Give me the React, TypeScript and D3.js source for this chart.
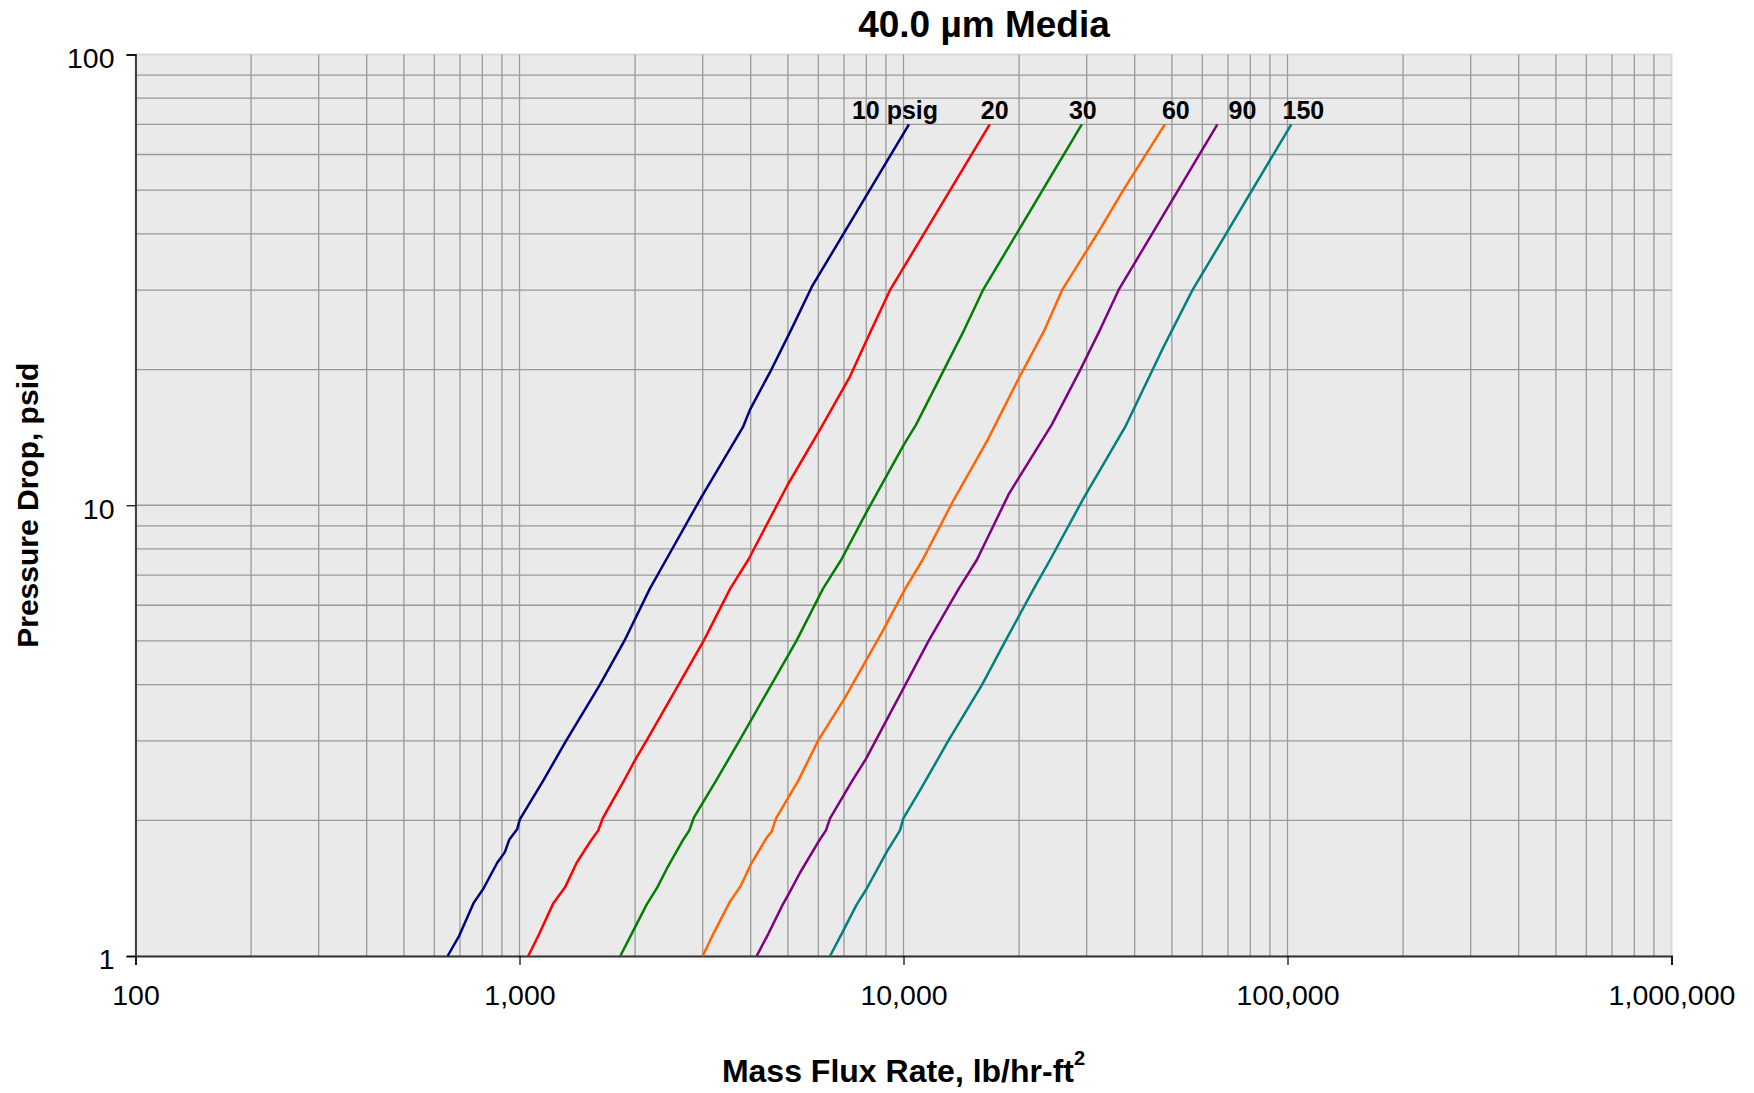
import React, { useEffect, useRef } from 'react'
import * as d3 from 'd3'

// series: [mass flux, pressure drop]
const seriesNames = ['10 psig', '20', '30', '60', '90', '150']
const seriesColors = ['#000080', '#ff0000', '#008000', '#ff6600', '#800080', '#008080']

const psig10 = [
  [650, 1], [697, 1.11], [759, 1.31], [805, 1.41], [875, 1.61], [916, 1.7], [940, 1.81], [986, 1.91],
  [1002, 2.01], [1153, 2.45], [1322, 3], [1620, 4], [1875, 5], [2187, 6.54], [2407, 7.56], [2971, 10.4],
  [3818, 14.9], [3984, 16.3], [4529, 20], [5097, 24.5], [5768, 30.5], [10334, 70],
]
const psig20 = [
  [1054, 1], [1126, 1.12], [1225, 1.31], [1314, 1.42], [1409, 1.61], [1526, 1.79], [1604, 1.9],
  [1647, 2.02], [1871, 2.45], [1999, 2.72], [2140, 3], [2596, 4], [3016, 5], [3541, 6.54], [3940, 7.56],
  [4989, 11.09], [6112, 14.9], [7254, 19.3], [8250, 24.5], [9222, 30], [16770, 70],
]
const psig30 = [
  [1830, 1], [1959, 1.12], [2143, 1.3], [2285, 1.42], [2417, 1.56], [2646, 1.79], [2768, 1.9],
  [2847, 2.03], [3250, 2.45], [3735, 3], [4529, 4], [5262, 5], [6178, 6.54], [6879, 7.56], [7991, 9.62],
  [10006, 13.6], [10785, 15.1], [14394, 24.5], [16100, 30], [29130, 70],
]
const psig60 = [
  [3000, 1], [3197, 1.12], [3532, 1.32], [3767, 1.43], [4024, 1.61], [4403, 1.83], [4538, 1.89],
  [4656, 2.02], [5322, 2.45], [5986, 3], [7025, 3.73], [7991, 4.53], [8797, 5.23], [10116, 6.54],
  [11210, 7.56], [13504, 10.27], [16551, 13.95], [19859, 18.96], [23310, 24.5], [25870, 30],
  [28790, 34.7], [32410, 40.8], [37360, 50], [47920, 70],
]
const psig90 = [
  [4146, 1], [4446, 1.12], [4847, 1.3], [5063, 1.39], [5376, 1.53], [5998, 1.79], [6281, 1.9],
  [6437, 2.02], [7357, 2.45], [7991, 2.74], [10116, 4], [11625, 5], [13942, 6.54], [15518, 7.56],
  [18815, 10.6], [24330, 15.1], [28880, 20], [32490, 24.5], [36300, 30], [65680, 70],
]
const psig150 = [
  [6437, 1], [6901, 1.12], [7551, 1.3], [8017, 1.41], [9036, 1.7], [9790, 1.9], [9989, 2.02],
  [11040, 2.33], [13076, 3], [16023, 4], [18426, 5], [21860, 6.54], [24076, 7.56], [29500, 10.4],
  [37750, 14.9], [47370, 22.3], [56560, 30], [102350, 70],
]
const allSeries = [psig10, psig20, psig30, psig60, psig90, psig150]

const xTicks = [100, 1000, 10000, 100000, 1000000]
const yTicks = [1, 10, 100]

// label nudges (px) from each line's top end
const labelDx = [-14, 5, 1, 11, 25, 12]

const W = 1754
const H = 1093
const margin = { top: 54.5, right: 82.5, bottom: 137, left: 135.5 }
const font = '"Liberation Sans", Arial, sans-serif'

const App = () => {
  const ref = useRef(null)

  useEffect(() => {
    draw()
  }, [])

  const draw = () => {
    const root = d3.select(ref.current)
    root.selectAll('*').remove()
    const svg = root.append('svg')
      .attr('width', W)
      .attr('height', H)
      .style('display', 'block')
      .attr('font-family', font)

    const width = W - margin.left - margin.right
    const height = H - margin.top - margin.bottom

    const x = d3.scaleLog().domain([100, 1000000]).range([0, width])
    const y = d3.scaleLog().domain([1, 100]).range([height, 0])

    const g = svg.append('g')
      .attr('transform', `translate(${margin.left},${margin.top})`)

    g.append('rect')
      .attr('width', width)
      .attr('height', height)
      .attr('fill', '#eaeaea')
      .attr('stroke', '#d9d9d9')
      .attr('stroke-width', 2)

    // grid
    g.append('g')
      .selectAll('line')
      .data(x.ticks().filter(v => v > 100 && v < 1000000))
      .enter().append('line')
      .attr('x1', d => x(d)).attr('x2', d => x(d))
      .attr('y1', 0).attr('y2', height)
      .attr('stroke', '#9a9a9a')
      .attr('stroke-width', 1.3)

    g.append('g')
      .selectAll('line')
      .data(y.ticks().filter(v => v > 1 && v < 100))
      .enter().append('line')
      .attr('x1', 0).attr('x2', width)
      .attr('y1', d => y(d)).attr('y2', d => y(d))
      .attr('stroke', '#9a9a9a')
      .attr('stroke-width', 1.3)

    // axes
    const xAxis = g.append('g')
      .attr('transform', `translate(0,${height})`)
      .call(d3.axisBottom(x).tickValues(xTicks).tickFormat(d3.format(',')).tickSize(9).tickPadding(20))
    xAxis.select('.domain').attr('stroke', '#333').attr('stroke-width', 1.8)
    xAxis.selectAll('.tick line').attr('stroke', '#000').attr('stroke-width', 1.2)
    xAxis.selectAll('text').attr('font-size', 28.5).attr('font-family', font).attr('fill', '#000')

    const yAxis = g.append('g')
      .call(d3.axisLeft(y).tickValues(yTicks).tickFormat(d3.format(',')).tickSize(9).tickPadding(12))
    yAxis.select('.domain').attr('stroke', '#333').attr('stroke-width', 1.8)
    yAxis.selectAll('.tick line').attr('stroke', '#000').attr('stroke-width', 1.2)
    yAxis.selectAll('text').attr('font-size', 28.5).attr('font-family', font).attr('fill', '#000')
      .attr('dy', '0.45em')

    // series
    const line = d3.line()
      .x(d => x(d[0]))
      .y(d => y(d[1]))

    g.append('g')
      .selectAll('path')
      .data(allSeries)
      .enter().append('path')
      .attr('d', d => line(d))
      .attr('fill', 'none')
      .attr('stroke', (d, i) => seriesColors[i])
      .attr('stroke-width', 2.5)
      .attr('stroke-linejoin', 'round')

    g.append('g')
      .selectAll('text')
      .data(allSeries)
      .enter().append('text')
      .attr('x', (d, i) => x(d[d.length - 1][0]) + labelDx[i])
      .attr('y', d => y(d[d.length - 1][1]) - 5)
      .attr('text-anchor', 'middle')
      .attr('font-size', 25)
      .attr('font-weight', 'bold')
      .text((d, i) => seriesNames[i])

    // titles
    svg.append('text')
      .attr('x', 984)
      .attr('y', 37)
      .attr('text-anchor', 'middle')
      .attr('font-size', 37)
      .attr('font-weight', 'bold')
      .text('40.0 µm Media')

    const xl = svg.append('text')
      .attr('x', margin.left + width / 2)
      .attr('y', 1082)
      .attr('text-anchor', 'middle')
      .attr('font-size', 32)
      .attr('font-weight', 'bold')
    xl.append('tspan').text('Mass Flux Rate, lb/hr-ft')
    xl.append('tspan').attr('font-size', 20).attr('dy', -17).text('2')

    svg.append('text')
      .attr('transform', `translate(37.5,${margin.top + height / 2}) rotate(-90)`)
      .attr('text-anchor', 'middle')
      .attr('font-size', 30)
      .attr('font-weight', 'bold')
      .text('Pressure Drop, psid')
  }

  return (
    <div ref={ref} style={{ position: 'absolute', left: 0, top: 0 }}></div>
  )
}

export default App
